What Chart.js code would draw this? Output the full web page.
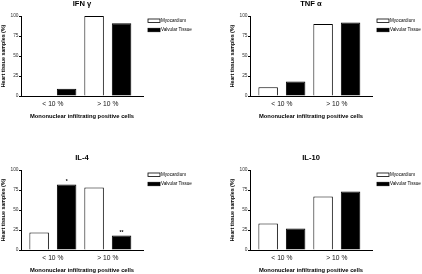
<!DOCTYPE html>
<html>
<head>
<meta charset="utf-8">
<script src="https://cdn.jsdelivr.net/npm/chart.js@4.4.1/dist/chart.umd.min.js"></script>
<style>
  body { margin: 0; background: #fff; width: 422px; height: 274px; overflow: hidden; position: relative; }
  canvas { position: absolute; }
</style>
</head>
<body>
<canvas id="ifnChart" width="193" height="122" style="left:0;top:0"></canvas>
<canvas id="tnfChart" width="193" height="122" style="left:229px;top:0"></canvas>
<canvas id="il4Chart" width="193" height="122" style="left:0;top:154px"></canvas>
<canvas id="il10Chart" width="193" height="122" style="left:229px;top:154px"></canvas>
<script>
const categories = ['< 10 %', '> 10 %'];
const seriesNames = ['Myocardium', 'Valvular Tissue'];
const yTicks = [0, 25, 50, 75, 100];
const xTitle = 'Mononuclear infiltrating positive cells';
const yTitle = 'Heart tissue samples (%)';

const ifnMyocardium = [0, 100];
const ifnValvular = [9, 91];
const tnfMyocardium = [11, 90];
const tnfValvular = [18, 92];
const il4Myocardium = [22, 78];
const il4Valvular = [82, 18];
const il10Myocardium = [33, 67];
const il10Valvular = [27, 73];
const il4ValvularMarks = ['*', '**'];

Chart.defaults.font.family = '"Liberation Sans", Arial, sans-serif';
Chart.defaults.color = '#000';

// legend boxes at the right of the plot + significance marks over bars
const legendAndMarks = {
  id: 'legendAndMarks',
  afterDatasetsDraw(chart) {
    const ctx = chart.ctx;
    const area = chart.chartArea;
    ctx.save();
    chart.data.datasets.forEach((ds, i) => {
      const x = area.right + 5;
      const y = area.top + 4.7 + i * 9.3;
      ctx.fillStyle = ds.backgroundColor;
      ctx.fillRect(x, y - 1.7, 12, 3.4);
      ctx.strokeStyle = '#000';
      ctx.lineWidth = 0.8;
      ctx.strokeRect(x, y - 1.7, 12, 3.4);
      ctx.fillStyle = '#000';
      ctx.font = '4.6px "Liberation Sans", Arial, sans-serif';
      ctx.textAlign = 'left';
      ctx.textBaseline = 'middle';
      ctx.fillText(ds.label, x + 13, y);
      if (ds.marks) {
        ctx.font = 'bold 5px "Liberation Sans", Arial, sans-serif';
        ctx.textAlign = 'center';
        ctx.textBaseline = 'bottom';
        chart.getDatasetMeta(i).data.forEach((bar, j) => {
          ctx.fillText(ds.marks[j] || '', bar.x, bar.y - 0.5);
        });
      }
    });
    ctx.restore();
  }
};

function makeChart(id, title, myo, valv, valvMarks) {
  return new Chart(document.getElementById(id), {
    type: 'bar',
    data: {
      datasets: [{
        label: seriesNames[0],
        data: myo.map((v, i) => ({ x: i + 1, y: v })),
        backgroundColor: '#ffffff',
        borderColor: '#000000',
        borderWidth: 1,
      }, {
        label: seriesNames[1],
        data: valv.map((v, i) => ({ x: i + 1, y: v })),
        backgroundColor: '#000000',
        borderColor: '#000000',
        borderWidth: 1,
        marks: valvMarks,
      }],
    },
    options: {
      responsive: false,
      animation: false,
      devicePixelRatio: 1,
      layout: { padding: { left: 0, top: 0, right: 50, bottom: 0 } },
      datasets: { bar: { categoryPercentage: 1, barPercentage: 0.71 } },
      plugins: {
        legend: { display: false },
        tooltip: { enabled: false },
        title: {
          display: true,
          text: title,
          fullSize: false,
          font: { size: 7.6, weight: 'bold', lineHeight: 1 },
          color: '#000',
          padding: { top: 0, bottom: 8.4 },
        },
      },
      scales: {
        x: {
          type: 'linear',
          min: 0.42,
          max: 2.64,
          offset: false,
          afterBuildTicks: s => { s.ticks = categories.map((c, i) => ({ value: i + 1 })); },
          afterFit: s => { s.height = 26; },
          grid: { display: false, drawTicks: false },
          border: { display: true, color: '#000', width: 1 },
          ticks: {
            callback: v => categories[v - 1],
            font: { size: 6.7 },
            color: '#111',
            padding: 4,
            maxRotation: 0,
            autoSkip: false,
          },
          title: {
            display: true,
            text: xTitle,
            font: { size: 5.8, weight: 'bold' },
            color: '#000',
            padding: { top: 0, bottom: 2 },
          },
        },
        y: {
          min: 0,
          max: 100,
          afterBuildTicks: s => { s.ticks = yTicks.map(v => ({ value: v })); },
          afterFit: s => { s.width = 21; },
          grid: { drawOnChartArea: false, drawTicks: true, tickLength: 2, color: '#000' },
          border: { display: true, color: '#000', width: 1 },
          ticks: { font: { size: 4.8 }, color: '#333', padding: 0.5 },
          title: {
            display: true,
            text: yTitle,
            font: { size: 5.3, weight: 'bold' },
            color: '#000',
            padding: 0,
          },
        },
      },
    },
    plugins: [legendAndMarks],
  });
}

makeChart('ifnChart', 'IFN γ', ifnMyocardium, ifnValvular);
makeChart('tnfChart', 'TNF α', tnfMyocardium, tnfValvular);
makeChart('il4Chart', 'IL-4', il4Myocardium, il4Valvular, il4ValvularMarks);
makeChart('il10Chart', 'IL-10', il10Myocardium, il10Valvular);
</script>
</body>
</html>
